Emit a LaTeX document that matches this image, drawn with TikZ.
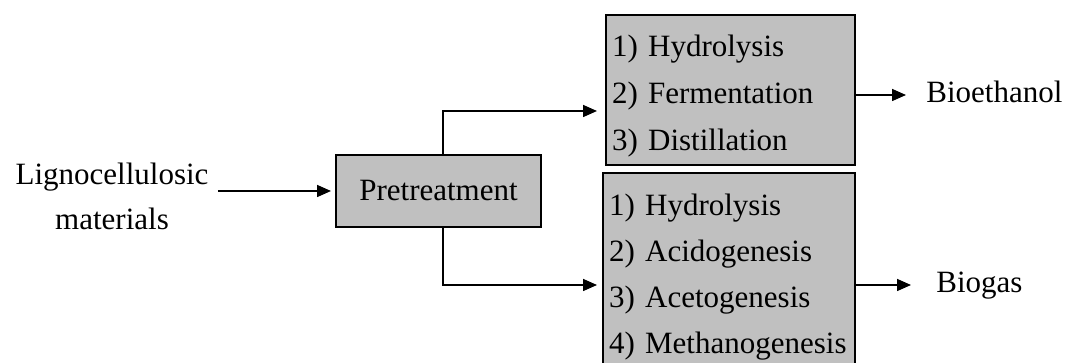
\documentclass[tikz,border=0pt]{standalone}
\usepackage{fontspec}
\setmainfont{Liberation Serif}
\usetikzlibrary{positioning,arrows.meta,calc}
\definecolor{boxgray}{RGB}{192,192,192}

\tikzset{
  procbox/.style={draw, line width=1pt, fill=boxgray, inner sep=0pt},
  flow/.style={line width=0.8pt, -{Triangle[length=7pt,width=6pt]}},
  every node/.style={font=\fontsize{15.5}{23.5}\selectfont}
}

\begin{document}
\begin{tikzpicture}[x=0.5pt, y=-0.5pt]
\useasboundingbox (0,0) rectangle (1067,363);

\node[align=center, anchor=base, inner sep=0pt, font=\fontsize{15.5}{22.5}\selectfont] (src) at (112,230) {Lignocellulosic\\materials};
\node[procbox, minimum width=102.5pt, minimum height=36pt] (pre) at (438.5,191) {Pretreatment};

% the two process boxes
\node[procbox, minimum width=124.5pt, minimum height=75pt, text width=118.5pt, align=left] (eth) at (730.5,90) {\rule{0pt}{17pt}1) Hydrolysis\\2) Fermentation\\3) Distillation};
\node[procbox, minimum width=126pt, minimum height=101pt, text width=120pt, align=left, font=\fontsize{15.5}{23}\selectfont] (gas) at (729,274) {\rule{0pt}{14pt}1) Hydrolysis\\2) Acidogenesis\\3) Acetogenesis\\4) Methanogenesis};

% products
\node[anchor=base west, inner sep=0pt] (bioeth) at (926,103) {Bioethanol};
\node[anchor=base west, inner sep=0pt] (biogas) at (936,293) {Biogas};

\coordinate (upfork) at (443,111);
\coordinate (downfork) at (443,285);
\coordinate (ethout) at ([yshift=-2.5pt]eth.east);

\draw[flow] ([xshift=4.5pt]src.east |- pre.west) -- ([xshift=-2pt]pre.west);
\draw[flow] (pre.north -| upfork) |- ([xshift=-4pt]eth.west |- upfork); % top branch
\draw[flow] (pre.south -| downfork) |- ([xshift=-2.5pt]gas.west |- downfork); % bottom branch
\draw[flow] (ethout) -- ([xshift=-10pt]bioeth.west |- ethout);
\draw[flow] (gas.east |- downfork) -- ([xshift=-12.5pt]biogas.west |- downfork);
\end{tikzpicture}
\end{document}
